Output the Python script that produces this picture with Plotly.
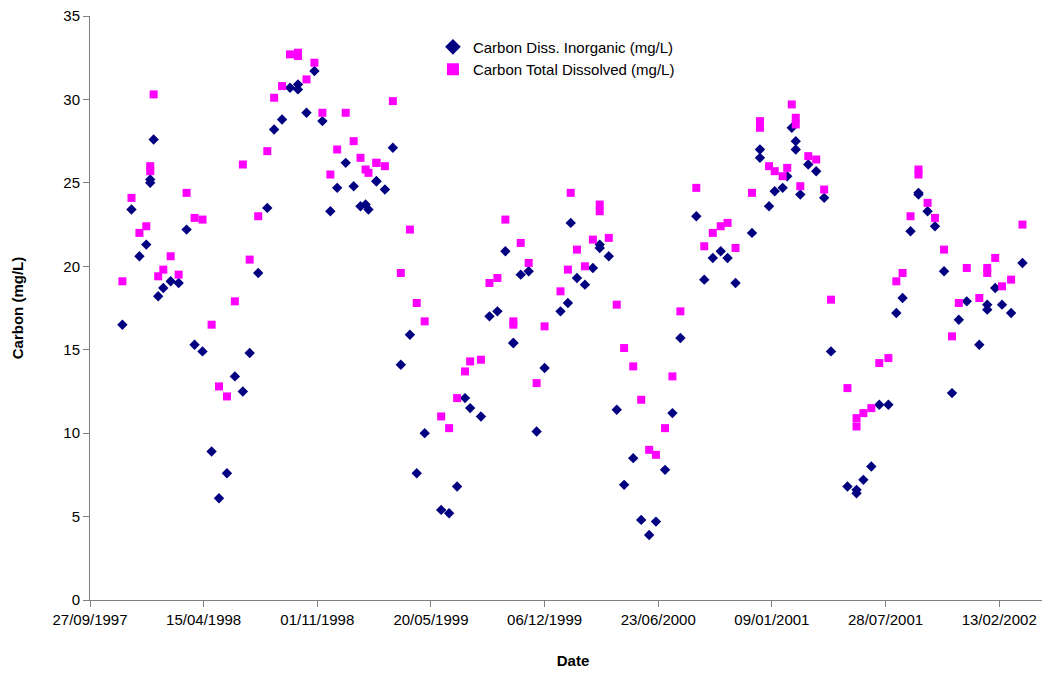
import pandas as pd
import plotly.graph_objects as go

# sampling days counted from 27/09/1997
sample_day = [57, 73, 87, 99, 106, 106, 112, 120, 129, 142, 156, 170, 184, 198, 214, 227,
              241, 255, 269, 281, 296, 312, 324, 338, 352, 366, 366, 381, 395, 409, 423,
              435, 450, 464, 476, 485, 490, 504, 504, 519, 533, 547, 563, 575, 589, 618,
              632, 646, 660, 669, 688, 703, 717, 731, 745, 745, 758, 772, 786, 800, 828,
              841, 846, 857, 871, 885, 897, 897, 913, 927, 940, 956, 970, 984, 996, 1012,
              1025, 1039, 1067, 1081, 1096, 1110, 1122, 1136, 1165, 1179, 1179, 1195, 1205,
              1219, 1227, 1235, 1242, 1242, 1250, 1264, 1278, 1292, 1304, 1333, 1349, 1349,
              1361, 1375, 1389, 1405, 1419, 1430, 1444, 1458, 1458, 1474, 1487, 1503, 1517,
              1529, 1543, 1565, 1579, 1579, 1593, 1605, 1621, 1641]

carbon_inorganic = [16.5, 23.4, 20.6, 21.3, 25.0, 25.2, 27.6, 18.2, 18.7, 19.1, 19.0, 22.2,
                    15.3, 14.9, 8.9, 6.1, 7.6, 13.4, 12.5, 14.8, 19.6, 23.5, 28.2, 28.8,
                    30.7, 30.6, 30.9, 29.2, 31.7, 28.7, 23.3, 24.7, 26.2, 24.8, 23.6, 23.7,
                    23.4, 25.1, 25.1, 24.6, 27.1, 14.1, 15.9, 7.6, 10.0, 5.4, 5.2, 6.8, 12.1,
                    11.5, 11.0, 17.0, 17.3, 20.9, 15.4, 15.4, 19.5, 19.7, 10.1, 13.9, 17.3,
                    17.8, 22.6, 19.3, 18.9, 19.9, 21.3, 21.1, 20.6, 11.4, 6.9, 8.5, 4.8, 3.9,
                    4.7, 7.8, 11.2, 15.7, 23.0, 19.2, 20.5, 20.9, 20.5, 19.0, 22.0, 27.0,
                    26.5, 23.6, 24.5, 24.7, 25.4, 28.3, 27.5, 27.0, 24.3, 26.1, 25.7, 24.1,
                    14.9, 6.8, 6.6, 6.4, 7.2, 8.0, 11.7, 11.7, 17.2, 18.1, 22.1, 24.4, 24.3,
                    23.3, 22.4, 19.7, 12.4, 16.8, 17.9, 15.3, 17.7, 17.4, 18.7, 17.7, 17.2,
                    20.2]

carbon_total = [19.1, 24.1, 22.0, 22.4, 26.0, 25.7, 30.3, 19.4, 19.8, 20.6, 19.5, 24.4,
                22.9, 22.8, 16.5, 12.8, 12.2, 17.9, 26.1, 20.4, 23.0, 26.9, 30.1, 30.8,
                32.7, 32.8, 32.6, 31.2, 32.2, 29.2, 25.5, 27.0, 29.2, 27.5, 26.5, 25.8,
                25.6, 26.2, 26.2, 26.0, 29.9, 19.6, 22.2, 17.8, 16.7, 11.0, 10.3, 12.1,
                13.7, 14.3, 14.4, 19.0, 19.3, 22.8, 16.7, 16.5, 21.4, 20.2, 13.0, 16.4,
                18.5, 19.8, 24.4, 21.0, 20.0, 21.6, 23.7, 23.3, 21.7, 17.7, 15.1, 14.0,
                12.0, 9.0, 8.7, 10.3, 13.4, 17.3, 24.7, 21.2, 22.0, 22.4, 22.6, 21.1,
                24.4, 28.7, 28.3, 26.0, 25.7, 25.4, 25.9, 29.7, 28.9, 28.5, 24.8, 26.6,
                26.4, 24.6, 18.0, 12.7, 10.9, 10.4, 11.2, 11.5, 14.2, 14.5, 19.1, 19.6,
                23.0, 25.8, 25.5, 23.8, 22.9, 21.0, 15.8, 17.8, 19.9, 18.1, 19.9, 19.6,
                20.5, 18.8, 19.2, 22.5]

start = pd.Timestamp("1997-09-27")
dates = [start + pd.Timedelta(days=d) for d in sample_day]
tick_dates = [start + pd.Timedelta(days=200 * i) for i in range(9)]

fig = go.Figure()
fig.add_trace(go.Scatter(
    x=dates, y=carbon_inorganic, mode="markers", name="Carbon Diss. Inorganic (mg/L)",
    marker=dict(symbol="diamond", size=8, color="#000080"),
))
fig.add_trace(go.Scatter(
    x=dates, y=carbon_total, mode="markers", name="Carbon Total Dissolved (mg/L)",
    marker=dict(symbol="square", size=8, color="#FF00FF"),
))

# page body adds an 8px offset, margins compensate for it
fig.update_layout(
    width=1050, height=679,
    margin=dict(l=82, r=2, t=8, b=87),
    plot_bgcolor="white", paper_bgcolor="white",
    font=dict(family="Liberation Sans, Arial", size=15, color="black"),
    legend=dict(x=0.355, y=0.975, xanchor="left", yanchor="top", tracegroupgap=0,
                font=dict(size=15), bgcolor="rgba(0,0,0,0)", itemsizing="constant"),
    xaxis=dict(
        title=dict(text="<b>Date</b>", font=dict(size=15), standoff=28),
        range=[start, start + pd.Timedelta(days=1700)], automargin=False,
        tickvals=tick_dates, ticktext=[d.strftime("%d/%m/%Y") for d in tick_dates],
        showline=True, linecolor="#808080", ticks="outside", tickcolor="#808080",
        ticklen=6, showgrid=False, zeroline=False, ticklabeloverflow="allow",
    ),
    yaxis=dict(
        title=dict(text="<b>Carbon (mg/L)</b>", font=dict(size=15), standoff=36),
        range=[0, 35], dtick=5, automargin=False, ticklabeloverflow="allow",
        showline=True, linecolor="#808080", ticks="outside", tickcolor="#808080",
        ticklen=6, showgrid=False, zeroline=False,
    ),
)

fig.write_html("out.html")
